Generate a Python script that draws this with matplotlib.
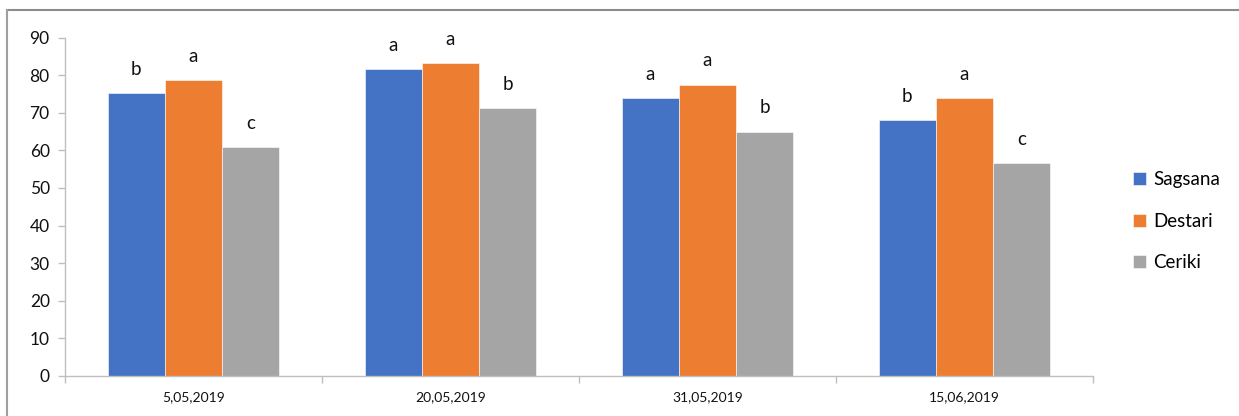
import matplotlib
matplotlib.use("Agg")
import matplotlib.pyplot as plt
from matplotlib.lines import Line2D
import numpy as np

plt.rcParams['font.family'] = ['Lato', 'DejaVu Sans']

dates = ["5,05,2019", "20,05,2019", "31,05,2019", "15,06,2019"]
series_names = ["Sagsana", "Destari", "Ceriki"]
sagsana = [75.2, 81.5, 73.9, 68.0]
destari = [78.6, 83.3, 77.5, 73.9]
ceriki = [61.0, 71.2, 65.0, 56.6]
letters_sagsana = ["b", "a", "a", "b"]
letters_destari = ["a", "a", "a", "a"]
letters_ceriki = ["c", "b", "b", "c"]

colors = ["#4472C4", "#ED7D31", "#A5A5A5"]
axis_grey = "#BFBFBF"

fig = plt.figure(figsize=(12.39, 4.16), dpi=100)
ax = fig.add_axes([65 / 1239, 1 - 376 / 416, (1093 - 65) / 1239, (376 - 37.5) / 416])

x = np.arange(len(dates))
width = 0.223
values = [sagsana, destari, ceriki]
letters = [letters_sagsana, letters_destari, letters_ceriki]
for i, (vals, name, col, labs) in enumerate(zip(values, series_names, colors, letters)):
    pos = x + (i - 1) * width
    ax.bar(pos, vals, width=width, color=col, label=name, edgecolor="white", linewidth=0.4)
    for px, v, t in zip(pos, vals, labs):
        ax.text(px, v + 4.0, t, ha="center", va="bottom", fontsize=13.5, color="#111111")

ax.set_xlim(-0.5, len(dates) - 0.5)
ax.set_ylim(0, 90)
ax.set_yticks(np.arange(0, 91, 10))
ax.tick_params(axis="y", labelsize=12.5, length=5, color=axis_grey, width=1, pad=6, labelcolor="#111111")

ax.set_xticks(np.arange(-0.5, len(dates) + 0.5, 1))
ax.set_xticklabels([])
ax.set_xticks(x, minor=True)
ax.set_xticklabels(dates, minor=True)
ax.tick_params(axis="x", which="major", length=5, color=axis_grey, width=1)
ax.tick_params(axis="x", which="minor", length=0, labelsize=10, pad=11, labelcolor="#111111")

for s in ["top", "right"]:
    ax.spines[s].set_visible(False)
for s in ["left", "bottom"]:
    ax.spines[s].set_color(axis_grey)
    ax.spines[s].set_linewidth(1)

leg = ax.legend(loc="upper left", bbox_to_anchor=(1.03, 0.632), frameon=False,
                fontsize=13.5, handlelength=0.7, handleheight=0.7, handletextpad=0.35,
                labelspacing=1.3, borderpad=0)

# outer frame of the chart area
fig.add_artist(Line2D([7 / 1239, 1], [1 - 9.5 / 416, 1 - 9.5 / 416], color="#8C8C8C", linewidth=1.5))
fig.add_artist(Line2D([7 / 1239, 7 / 1239], [0, 1 - 9.5 / 416], color="#A0A0A0", linewidth=1.5))

fig.savefig("out.png", dpi=100)
